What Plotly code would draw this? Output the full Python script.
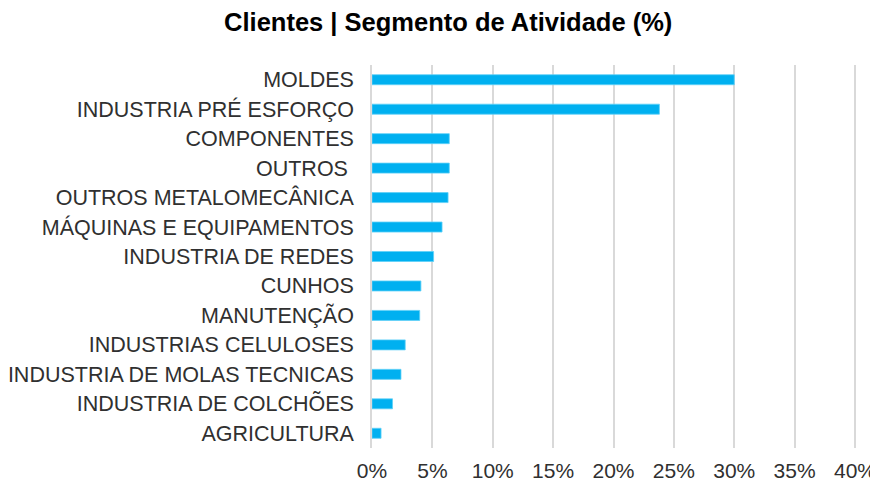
import plotly.graph_objects as go

categories = [
    "MOLDES",
    "INDUSTRIA PRÉ ESFORÇO",
    "COMPONENTES",
    "OUTROS ",
    "OUTROS METALOMECÂNICA",
    "MÁQUINAS E EQUIPAMENTOS",
    "INDUSTRIA DE REDES",
    "CUNHOS",
    "MANUTENÇÃO",
    "INDUSTRIAS CELULOSES",
    "INDUSTRIA DE MOLAS TECNICAS",
    "INDUSTRIA DE COLCHÕES",
    "AGRICULTURA",
]
values = [30.0, 23.8, 6.4, 6.4, 6.3, 5.8, 5.1, 4.05, 3.95, 2.75, 2.4, 1.7, 0.75]
tick_vals = [0, 5, 10, 15, 20, 25, 30, 35, 40]
tick_text = ["0%", "5%", "10%", "15%", "20%", "25%", "30%", "35%", "40%"]

# The page body has an 8px default margin; the figure is sized so that it fills the 878x484 window.
fig = go.Figure(
    go.Bar(
        x=values,
        y=categories,
        orientation="h",
        marker=dict(color="#00B0F0", line=dict(color="#5fd0f8", width=0.8)),
        hoverinfo="x+y",
    )
)

fig.update_layout(
    width=870,
    height=476,
    paper_bgcolor="white",
    plot_bgcolor="white",
    margin=dict(l=364, r=19, t=57, b=36, autoexpand=False),
    bargap=0.66,
    showlegend=False,
    title=dict(
        text="<b>Clientes | Segmento de Atividade (%)</b>",
        x=0.506,
        xanchor="center",
        y=1 - 14 / 476,
        yref="container",
        yanchor="middle",
        font=dict(family="Liberation Sans, Arial, sans-serif", size=25.5, color="#000000"),
    ),
    font=dict(family="Liberation Sans, Arial, sans-serif", size=21, color="#303030"),
)

fig.update_xaxes(
    range=[0, 40.33],
    tickvals=tick_vals,
    ticktext=tick_text,
    showgrid=True,
    gridcolor="#d9d9d9",
    gridwidth=1.5,
    zeroline=False,
    showline=False,
    ticks="outside",
    ticklen=4,
    tickcolor="rgba(0,0,0,0)",
    tickfont=dict(size=21, color="#303030"),
    automargin=False,
)
fig.update_yaxes(
    categoryorder="array",
    categoryarray=categories[::-1],
    autorange=True,
    showgrid=False,
    zeroline=False,
    showline=True,
    linecolor="#d9d9d9",
    linewidth=1.5,
    ticks="outside",
    ticklen=12,
    tickcolor="rgba(0,0,0,0)",
    tickfont=dict(size=21.5, color="#303030"),
    automargin=False,
)

fig.write_html("out.html")
